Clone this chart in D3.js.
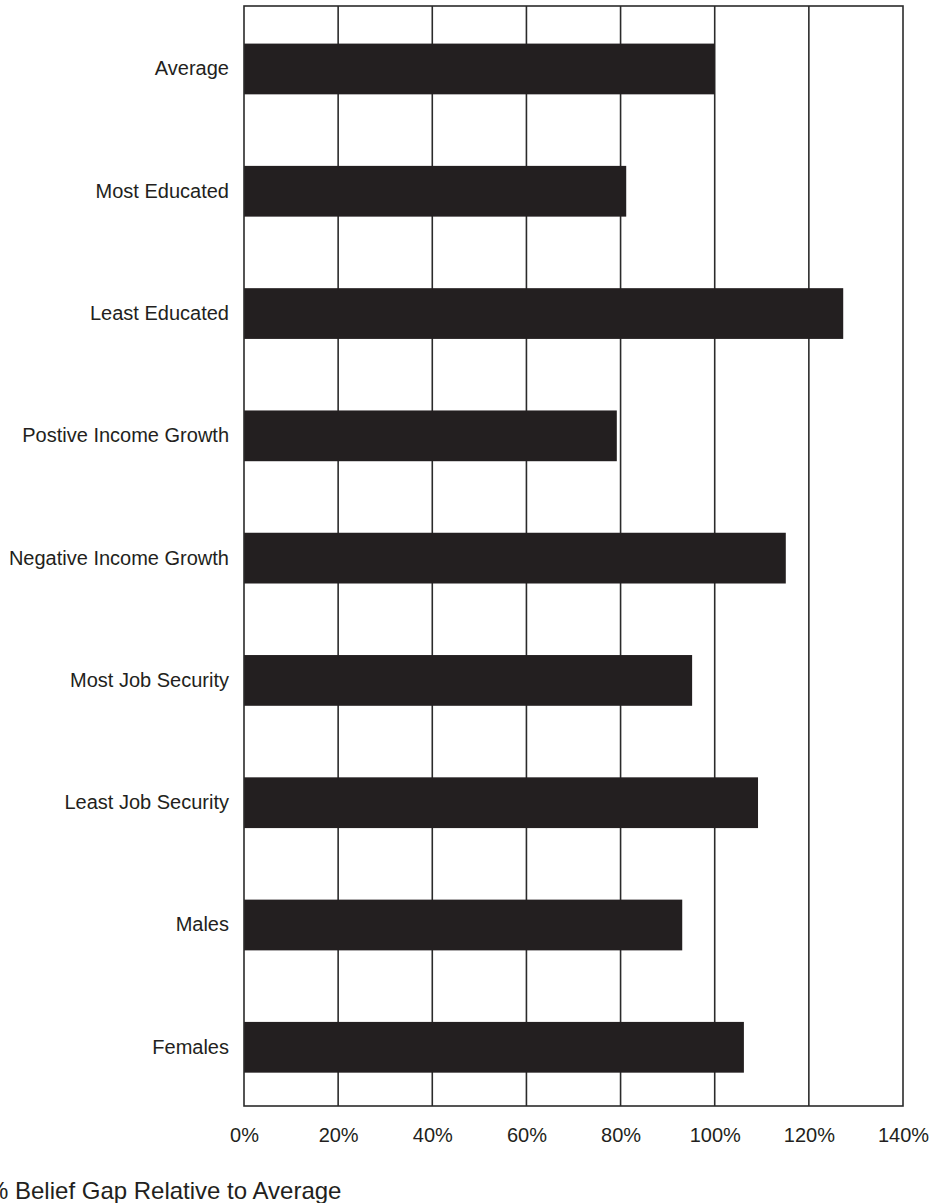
<!DOCTYPE html>
<html>
<head>
<meta charset="utf-8">
<script src="https://cdn.jsdelivr.net/npm/d3@7"></script>
<style>
  body { margin: 0; background: #fff; }
  svg { display: block; font-family: "Liberation Sans", Arial, sans-serif; }
</style>
</head>
<body>
<div id="chart"></div>
<script>
const categories = ["Average", "Most Educated", "Least Educated", "Postive Income Growth",
  "Negative Income Growth", "Most Job Security", "Least Job Security", "Males", "Females"];
const values = [100, 81.2, 127.3, 79.2, 115.1, 95.2, 109.2, 93.1, 106.2];
const xTicks = [0, 20, 40, 60, 80, 100, 120, 140];
const xTitle = "% Belief Gap Relative to Average";

const dimension = {
  width: 934,
  height: 1203,
  margin: { top: 6, left: 244, right: 31, bottom: 97 }
};
dimension.boundedWidth = dimension.width - dimension.margin.left - dimension.margin.right;
dimension.boundedHeight = dimension.height - dimension.margin.top - dimension.margin.bottom;

const svg = d3.select("#chart").append("svg")
  .attr("width", dimension.width)
  .attr("height", dimension.height);

const bounded = svg.append("g")
  .attr("transform", `translate(${dimension.margin.left},${dimension.margin.top})`);

// scales
const xScale = d3.scaleLinear().domain([0, 140]).range([0, dimension.boundedWidth]);
const yScale = d3.scaleBand().domain(categories).range([0, dimension.boundedHeight])
  .paddingInner(0.585).paddingOuter(0.29).align(0.53);

// gridlines
bounded.selectAll("line.grid")
  .data(xTicks.slice(1, -1))
  .join("line")
  .attr("class", "grid")
  .attr("x1", d => xScale(d)).attr("x2", d => xScale(d))
  .attr("y1", 0).attr("y2", dimension.boundedHeight)
  .attr("stroke", "#2b2b2b").attr("stroke-width", 1.6);

// bars
bounded.selectAll("rect.bar")
  .data(values)
  .join("rect")
  .attr("class", "bar")
  .attr("x", 0)
  .attr("y", (d, i) => yScale(categories[i]))
  .attr("width", d => xScale(d))
  .attr("height", yScale.bandwidth())
  .attr("fill", "#231f20");

// frame
bounded.append("rect")
  .attr("x", 0).attr("y", 0)
  .attr("width", dimension.boundedWidth).attr("height", dimension.boundedHeight)
  .attr("fill", "none").attr("stroke", "#2b2b2b").attr("stroke-width", 1.6);

// y axis labels
const yAxis = d3.axisLeft(yScale).tickSize(0).tickPadding(15);
const yG = bounded.append("g").call(yAxis);
yG.select(".domain").remove();
yG.selectAll("text").attr("font-size", 20).attr("fill", "#231f20").style("font-family", "Liberation Sans, Arial, sans-serif");

// x axis labels
const xAxis = d3.axisBottom(xScale).tickValues(xTicks).tickFormat(d => d + "%").tickSize(0).tickPadding(22);
const xG = bounded.append("g").attr("transform", `translate(0,${dimension.boundedHeight})`).call(xAxis);
xG.select(".domain").remove();
xG.selectAll("text").attr("font-size", 20).attr("fill", "#231f20").style("font-family", "Liberation Sans, Arial, sans-serif");

// axis title
svg.append("text")
  .attr("x", -13)
  .attr("y", 1199)
  .attr("font-size", 24)
  .attr("fill", "#231f20")
  .text(xTitle);
</script>
</body>
</html>
